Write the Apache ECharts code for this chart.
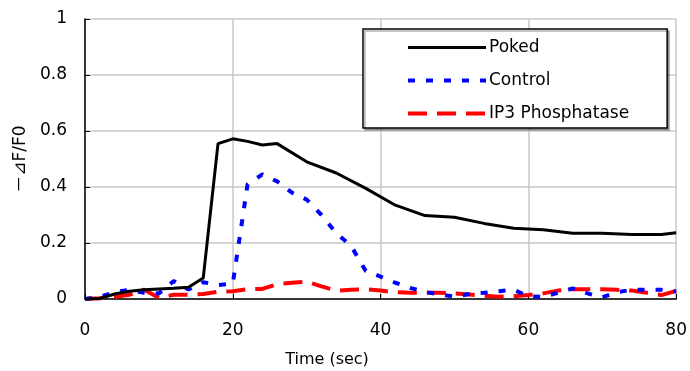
<!DOCTYPE html>
<html>
<head>
<meta charset="utf-8">
<script src="https://cdn.jsdelivr.net/npm/echarts@6/dist/echarts.min.js"></script>
<style>html,body{margin:0;padding:0;background:#fff}#c{width:690px;height:371px}</style>
</head>
<body>
<div id="c"></div>
<script>
var pokedTime = [0,2,4,6,8,10,12,14,16,18,20,22,24,26,30,34,38,42,46,50,54,58,62,66,70,74,78,80];
var pokedValues = [0,0.002,0.018,0.028,0.033,0.036,0.038,0.042,0.075,0.555,0.572,0.563,0.55,0.555,0.49,0.45,0.395,0.335,0.298,0.292,0.27,0.253,0.247,0.235,0.235,0.23,0.23,0.237];
var sampleTime = [0,2,4,6,8,10,12,14,16,18,20,22,24,26,28,30,32,34,36,38,40,42,44,46,48,50,52,54,56,58,60,62,64,66,68,70,72,74,76,78,80];
var controlValues = [0,0.008,0.024,0.033,0.022,0.02,0.064,0.034,0.06,0.05,0.055,0.41,0.445,0.42,0.38,0.355,0.3,0.235,0.19,0.1,0.08,0.058,0.04,0.025,0.017,0.008,0.018,0.022,0.028,0.033,0.01,0.008,0.022,0.038,0.02,0.006,0.024,0.033,0.033,0.033,0.027];
var ip3Values = [0,0.003,0.008,0.015,0.033,0.004,0.015,0.015,0.018,0.026,0.028,0.035,0.036,0.053,0.058,0.062,0.045,0.03,0.033,0.035,0.03,0.024,0.022,0.022,0.022,0.02,0.016,0.012,0.008,0.01,0.014,0.02,0.03,0.035,0.035,0.035,0.033,0.03,0.022,0.014,0.029];
var seriesNames = ['Poked','Control','IP3 Phosphatase'];
var xTicks = [0,20,40,60,80];
var yTicks = [0,0.2,0.4,0.6,0.8,1];

function pairs(xs, ys){ return xs.map(function(x,i){ return [x, ys[i]]; }); }

var FONT = '"DejaVu Sans", "Noto Sans CJK JP", sans-serif';
var styles = [
  {color: '#000000', width: 3, type: 'solid'},
  {color: '#0000ff', width: 4, type: [7, 11]},
  {color: '#ff0000', width: 4, type: [19, 10]}
];
var chart = echarts.init(document.getElementById('c'), null, {renderer:'canvas'});
chart.setOption({
  animation: false,
  backgroundColor: '#fff',
  textStyle: {fontFamily: FONT},
  grid: {left: 85, right: 10, top: 19, bottom: 72, containLabel: false},
  xAxis: {
    type: 'value', min: xTicks[0], max: xTicks[xTicks.length-1], interval: 20,
    axisLine: {show: true, onZero: false, lineStyle: {color: '#000', width: 1.5}},
    axisTick: {show: true, inside: true, length: 5, lineStyle: {color: '#000'}},
    axisLabel: {color: '#000', fontSize: 17, margin: 23, fontFamily: FONT},
    splitLine: {show: true, lineStyle: {color: '#c8c8c8', width: 1.5}}
  },
  yAxis: {
    type: 'value', min: yTicks[0], max: yTicks[yTicks.length-1], interval: 0.2,
    name: '－⊿F/F0', nameLocation: 'middle', nameGap: 43,
    nameTextStyle: {color: '#000', fontSize: 17, fontFamily: FONT},
    axisLine: {show: true, lineStyle: {color: '#000', width: 1.5}},
    axisTick: {show: true, inside: true, length: 5, lineStyle: {color: '#000'}},
    axisLabel: {color: '#000', fontSize: 17, margin: 18, fontFamily: FONT},
    splitLine: {show: true, lineStyle: {color: '#c8c8c8', width: 1.5}}
  },
  legend: {
    orient: 'vertical', left: 363, top: 29,
    data: seriesNames.map(function(n, i){
      return {name: n, itemStyle: {opacity: 0}, lineStyle: {color: styles[i].color, width: styles[i].width, type: styles[i].type}};
    }),
    itemWidth: 78, itemHeight: 12, itemGap: 16,
    padding: [10, 38, 6, 43],
    borderColor: '#000', borderWidth: 1.5, backgroundColor: '#fff',
    shadowColor: 'rgba(0,0,0,0.3)', shadowOffsetX: 2, shadowOffsetY: 2, shadowBlur: 0,
    textStyle: {color: '#000', fontSize: 17, fontFamily: FONT, padding: [0,0,0,-2]}
  },
  graphic: [{
    type: 'text', x: 327, y: 360,
    style: {text: 'Time (sec)', fill: '#000', font: '16px ' + FONT, textAlign: 'center', textVerticalAlign: 'middle'}
  }],
  series: [
    {name: seriesNames[0], type: 'line', data: pairs(pokedTime, pokedValues), showSymbol: false, symbol: 'none',
     lineStyle: styles[0], itemStyle: {color: styles[0].color}, z: 3},
    {name: seriesNames[1], type: 'line', data: pairs(sampleTime, controlValues), showSymbol: false, symbol: 'none',
     lineStyle: styles[1], itemStyle: {color: styles[1].color}, z: 2},
    {name: seriesNames[2], type: 'line', data: pairs(sampleTime, ip3Values), showSymbol: false, symbol: 'none',
     lineStyle: styles[2], itemStyle: {color: styles[2].color}, z: 1}
  ]
});
</script>
</body>
</html>
